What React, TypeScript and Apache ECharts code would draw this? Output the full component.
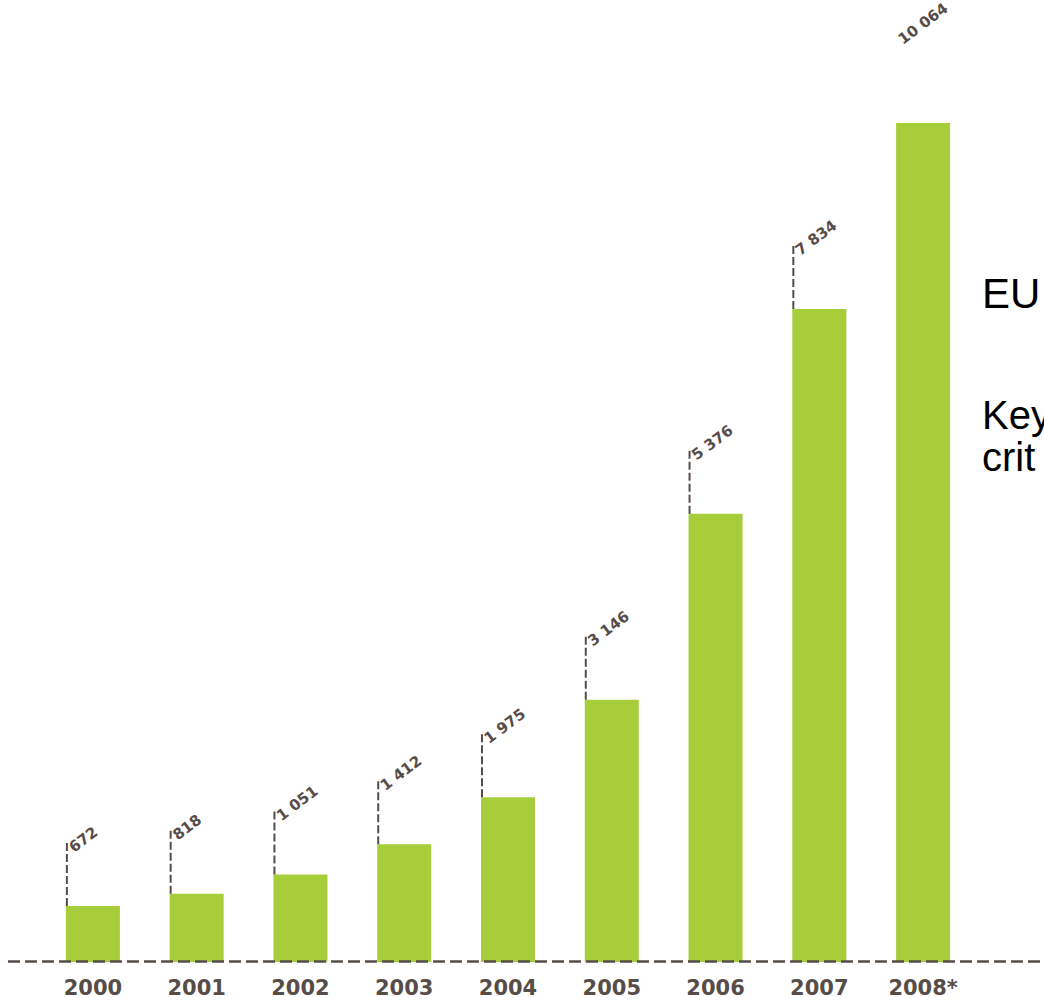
import React, { useEffect, useRef } from "react";
import * as echarts from "echarts";

const years = ["2000", "2001", "2002", "2003", "2004", "2005", "2006", "2007", "2008*"];
const values = [672, 818, 1051, 1412, 1975, 3146, 5376, 7834, 10064];
const sideTexts = ["EU", "Key", "crit"];

const GREEN = "#a7cd3a";
const BROWN = "#574d48";
const BAR_W = 54;

function fmt(v: number): string {
  return String(v).replace(/\B(?=(\d{3})+(?!\d))/g, " ");
}

export default function App() {
  const ref = useRef<HTMLDivElement>(null);
  useEffect(() => {
    if (!ref.current) return;
    const chart = echarts.init(ref.current, null, { renderer: "svg" });
    const option: any = {
      animation: false,
      backgroundColor: "#ffffff",
      grid: { left: 41, right: 69, top: 45, bottom: 41 },
      xAxis: {
        type: "category",
        data: years,
        axisLine: { show: false },
        axisTick: { show: false },
        axisLabel: {
          color: BROWN,
          fontFamily: "DejaVu Sans",
          fontWeight: "bold",
          fontSize: 21,
          margin: 15,
        },
      },
      yAxis: {
        type: "value",
        min: 0,
        max: 11000,
        show: false,
        splitLine: { show: false },
      },
      series: [
        {
          type: "bar",
          data: values,
          barWidth: BAR_W,
          itemStyle: { color: GREEN },
          z: 2,
        },
        {
          type: "custom",
          data: values.map((v, i) => [i, v]),
          z: 3,
          renderItem: (params: any, api: any) => {
            const idx = api.value(0);
            const val = api.value(1);
            const pt = api.coord([idx, val]);
            const left = pt[0] - BAR_W / 2;
            const isLast = params.dataIndex === values.length - 1;
            const children: any[] = [];
            if (!isLast) {
              children.push({
                type: "line",
                shape: { x1: left + 1, y1: pt[1], x2: left + 1, y2: pt[1] - 66 },
                style: { stroke: BROWN, lineWidth: 2, lineDash: [8, 3] },
              });
            }
            children.push({
              type: "text",
              x: left + (isLast ? 4 : 5),
              y: pt[1] - (isLast ? 82 : 57),
              rotation: (37 * Math.PI) / 180,
              style: {
                text: fmt(val),
                fill: BROWN,
                font: 'bold 15px "DejaVu Sans"',
                align: "left",
                verticalAlign: "middle",
              },
            });
            return { type: "group", children };
          },
        },
      ],
      graphic: [
        {
          type: "line",
          z: 100,
          shape: { x1: 8, y1: 961.5, x2: 1044, y2: 961.5 },
          style: { stroke: BROWN, lineWidth: 2.5, lineDash: [12, 5] },
        },
        {
          type: "text",
          left: 982,
          top: 272,
          style: { text: sideTexts[0], fill: "#000", font: '42px "Liberation Sans"' },
        },
        {
          type: "text",
          left: 982,
          top: 395,
          style: { text: sideTexts[1], fill: "#000", font: '40px "Liberation Sans"' },
        },
        {
          type: "text",
          left: 982,
          top: 437,
          style: { text: sideTexts[2], fill: "#000", font: '40px "Liberation Sans"' },
        },
      ],
    };
    chart.setOption(option);
    return () => chart.dispose();
  }, []);
  return (
    <div
      ref={ref}
      style={{ position: "absolute", left: 0, top: 0, width: 1044, height: 1003 }}
    />
  );
}
